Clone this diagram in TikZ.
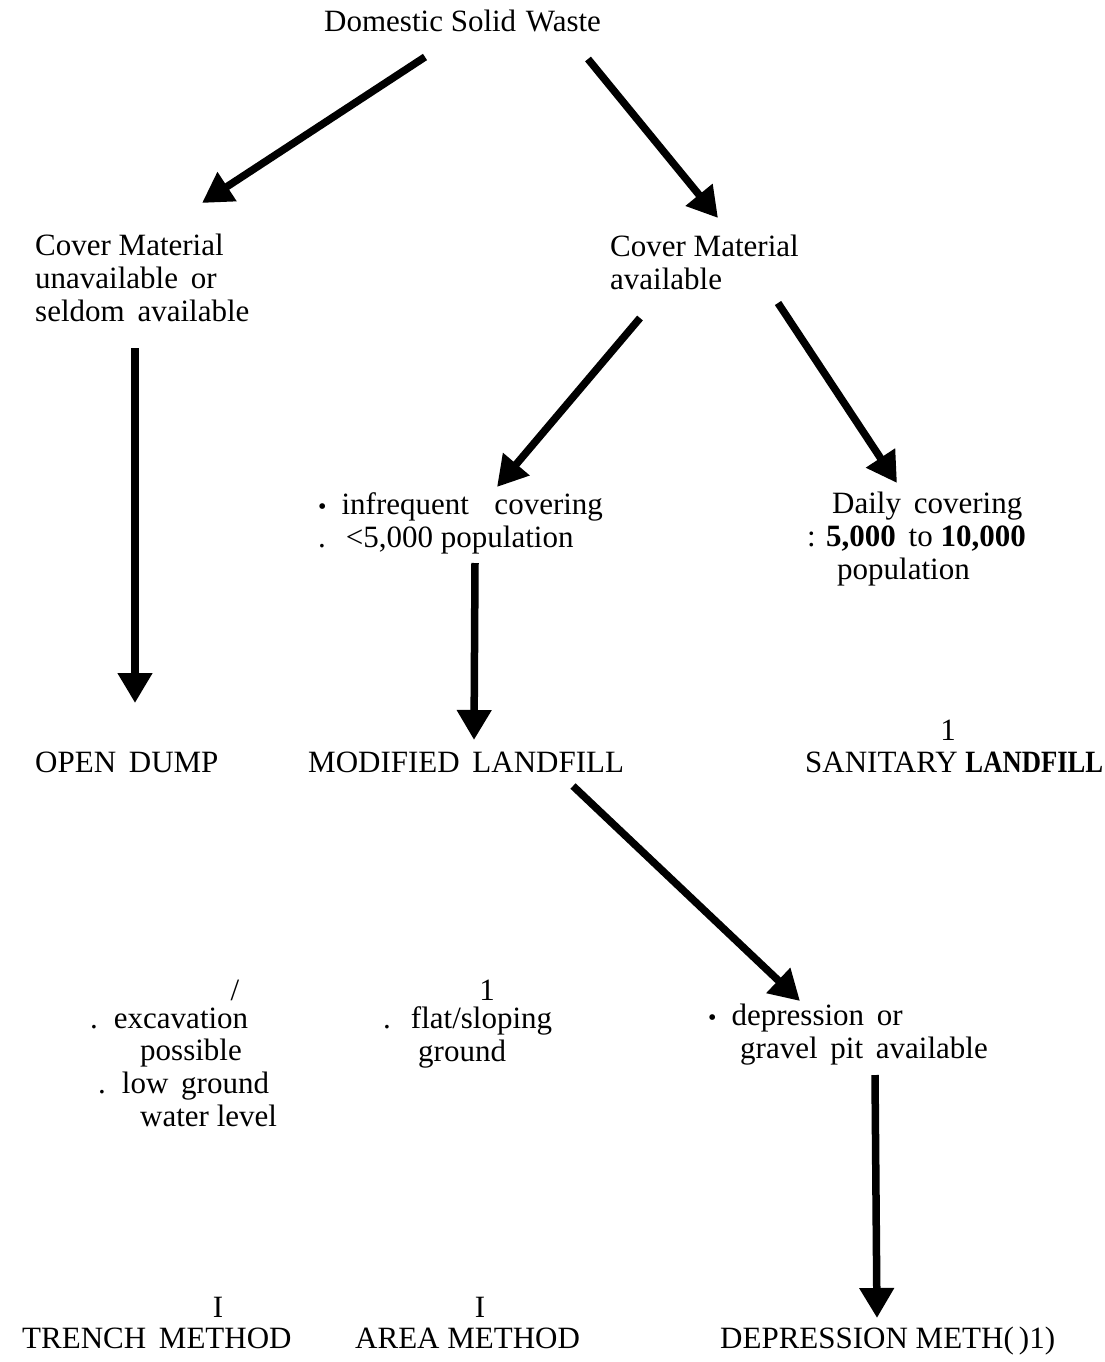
\documentclass[tikz,border=0pt]{standalone}
\usepackage{fontspec}
\setmainfont{Liberation Serif}
\usetikzlibrary{arrows.meta}
\tikzset{
    bigarrow/.style={line width=7.5pt,-{Triangle[length=30pt,width=33pt]}},
    txt/.style={inner sep=0pt,anchor=base west,align=left},
    mark/.style={}
}
\newcommand{\wgap}{\ \hspace{5pt}}
\begin{document}
\begin{tikzpicture}[x=1pt,y=-1pt,font=\fontsize{31}{32.6}\selectfont]
    \useasboundingbox (0,0) rectangle (1104,1362);
    %primo livello
    \node[txt] (dsw) at (324,32) {Domestic Solid\hspace{2pt} Waste};
    %secondo livello (base = ultima riga)
    \node[txt] (cmu) at (35,321) {Cover Material\\unavailable\wgap or\\seldom\wgap available};
    \node[txt] (cma) at (610,289) {Cover Material\\available};
    %terzo livello
    \node[txt] (inf) at (318,547) {{\fontsize{24}{24}\selectfont\textbullet}\hspace{15pt}infrequent\wgap\wgap covering\\.\hspace{20pt}<5,000 population};
    \node[txt] (dly) at (807,579) {\hspace*{25pt}Daily\wgap covering\\: \textbf{5,000}\wgap to \textbf{10,000}\\\hspace*{30pt}population};
    %discariche
    \node[txt] (opd) at (35,772) {OPEN\wgap DUMP};
    \node[txt] (mod) at (308,772) {MODIFIED\wgap LANDFILL};
    \node[inner sep=0pt,anchor=base] (one1) at (948,740) {1};
    \node[txt] (san) at (805,772) {SANITARY \scalebox{0.86}[1]{\textbf{LANDFILL}}};
    %condizioni del terreno
    \node[inner sep=0pt,anchor=base] (sl) at (235,1000) {/};
    \node[inner sep=0pt,anchor=base] (one2) at (487,1000) {1};
    \node[txt] (exc) at (90,1126) {.\hspace{16pt}excavation\\\hspace*{50pt}possible\\\hspace*{8pt}.\hspace{16pt}low\wgap ground\\\hspace*{50pt}water level};
    \node[txt] (flt) at (383,1061) {.\hspace{20pt}flat/sloping\\\hspace*{35pt}ground};
    \node[txt] (dep) at (708,1058) {{\fontsize{24}{24}\selectfont\textbullet}\hspace{15pt}depression\wgap or\\\hspace*{32pt}gravel\wgap pit\wgap available};
    %metodi
    \node[inner sep=0pt,anchor=base] (i1) at (218,1317) {I};
    \node[inner sep=0pt,anchor=base] (i2) at (480,1317) {I};
    \node[txt] (tm) at (22,1348) {TRENCH\wgap METHOD};
    \node[txt] (am) at (355,1348) {AREA METHOD};
    \node[txt] (dm) at (720,1348) {DEPRESSION METH(\,)1)};
    %frecce
    \draw[bigarrow] ([shift={(101,25)}]dsw.base west) -- ([shift={(167,-118)}]cmu.base west);
    \draw[bigarrow] ([shift={(264,27)}]dsw.base west) -- ([shift={(108,-71)}]cma.base west);
    \draw[bigarrow] ([shift={(100,27)}]cmu.base west) -- ([shift={(100,-69)}]opd.base west);
    \draw[bigarrow] ([shift={(30,29)}]cma.base west) -- ([shift={(179,-60)}]inf.base west);
    \draw[bigarrow] ([shift={(168,14)}]cma.base west) -- ([shift={(90,-96)}]dly.base west);
    \draw[bigarrow] ([shift={(157,16)}]inf.base west) -- ([shift={(166,-32)}]mod.base west);
    \draw[bigarrow] ([shift={(265,14)}]mod.base west) -- ([shift={(92,-57)}]dep.base west);
    \draw[bigarrow] ([shift={(167,17)}]dep.base west) -- ([shift={(157,-30)}]dm.base west);
\end{tikzpicture}
\end{document}
